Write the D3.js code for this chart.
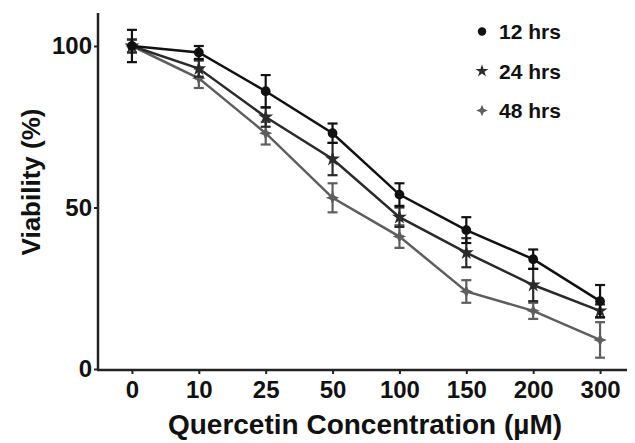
<!DOCTYPE html>
<html><head><meta charset="utf-8">
<script src="https://cdn.jsdelivr.net/npm/d3@7"></script>
<style>body{margin:0;background:#fff}svg{display:block}text{font-family:"Liberation Sans",Arial,sans-serif;font-weight:bold;fill:#111}</style>
</head><body>
<svg id="c" width="635" height="443"></svg>
<script>
const categories = ["0","10","25","50","100","150","200","300"];
const seriesNames = ["12 hrs","24 hrs","48 hrs"];
const values12 = [100, 98, 86, 73, 54, 43, 34, 21];
const errors12 = [5, 2, 5, 3, 3.5, 4, 3, 5];
const values24 = [100, 93, 78, 65, 47, 36, 26, 18];
const errors24 = [2, 2.5, 3, 5, 3, 4.5, 5, 2];
const values48 = [100, 90, 73, 53, 41, 24, 18, 9];
const errors48 = [2, 3, 3.5, 4.5, 3.5, 3.5, 2.5, 5.5];
const yTicks = [0, 50, 100];

const svg = d3.select("#c");
const x = d3.scalePoint().domain(categories).range([98.5, 633.5]).padding(0.5);
const y = d3.scaleLinear().domain([0, 100]).range([369, 46]);

const sparkle = {
  draw(ctx, size) {
    const r = Math.sqrt(size) * 0.75, k = r * 0.3;
    ctx.moveTo(0, -r);
    ctx.lineTo(k, -k); ctx.lineTo(r, 0); ctx.lineTo(k, k);
    ctx.lineTo(0, r); ctx.lineTo(-k, k); ctx.lineTo(-r, 0); ctx.lineTo(-k, -k);
    ctx.closePath();
  }
};

const series = [
  {name: seriesNames[0], vals: values12, errs: errors12, color: "#111", sym: d3.symbolCircle, size: 75},
  {name: seriesNames[1], vals: values24, errs: errors24, color: "#2a2a2a", sym: d3.symbolStar, size: 70},
  {name: seriesNames[2], vals: values48, errs: errors48, color: "#5e5e5e", sym: sparkle, size: 80}
];

// axes
const yAxis = svg.append("g").attr("transform", "translate(98,0)")
  .call(d3.axisLeft(y).tickValues(yTicks).tickSize(4).tickPadding(2).tickFormat(d3.format("d")));
yAxis.select(".domain").attr("d", "M0,13V370");
const xAxis = svg.append("g").attr("transform", "translate(0,370)")
  .call(d3.axisBottom(x).tickSize(4).tickPadding(7));
xAxis.select(".domain").attr("d", "M97,0H627");
svg.selectAll(".domain").attr("stroke", "#222").attr("stroke-width", 2.5);
svg.selectAll(".tick line").attr("stroke", "#222").attr("stroke-width", 2);
svg.selectAll(".tick text").attr("font-size", 24).attr("font-weight", "bold").attr("fill", "#111")
  .attr("font-family", "Liberation Sans, Arial, sans-serif");

// series
const line = d3.line().x((d, i) => x(categories[i])).y(d => y(d));
series.slice().reverse().forEach(s => {
  const g = svg.append("g");
  g.append("path").attr("d", line(s.vals)).attr("fill", "none").attr("stroke", s.color).attr("stroke-width", 2.5);
  s.vals.forEach((v, i) => {
    const cx = x(categories[i]);
    const e = s.errs[i];
    g.append("line").attr("x1", cx).attr("x2", cx).attr("y1", y(v + e)).attr("y2", y(v - e))
      .attr("stroke", s.color).attr("stroke-width", 2.2);
    [v + e, v - e].forEach(w => g.append("line").attr("x1", cx - 5).attr("x2", cx + 5)
      .attr("y1", y(w)).attr("y2", y(w)).attr("stroke", s.color).attr("stroke-width", 2.2));
    g.append("path").attr("d", d3.symbol().type(s.sym).size(s.size)())
      .attr("transform", `translate(${cx},${y(v)})`).attr("fill", s.color);
  });
});

// legend
series.forEach((s, i) => {
  const ly = 31.5 + i * 39.5;
  svg.append("path").attr("d", d3.symbol().type(s.sym).size(s.size * 0.75)())
    .attr("transform", `translate(482,${ly})`).attr("fill", s.color);
  svg.append("text").attr("x", 499).attr("y", ly).attr("dy", "0.36em").attr("font-size", 21).text(s.name);
});

// titles
svg.append("text").attr("x", 365).attr("y", 434).attr("text-anchor", "middle").attr("font-size", 28)
  .text("Quercetin Concentration (µM)");
svg.append("text").attr("transform", "translate(40,182) rotate(-90)").attr("text-anchor", "middle").attr("font-size", 26)
  .text("Viability (%)");
</script>
</body></html>
